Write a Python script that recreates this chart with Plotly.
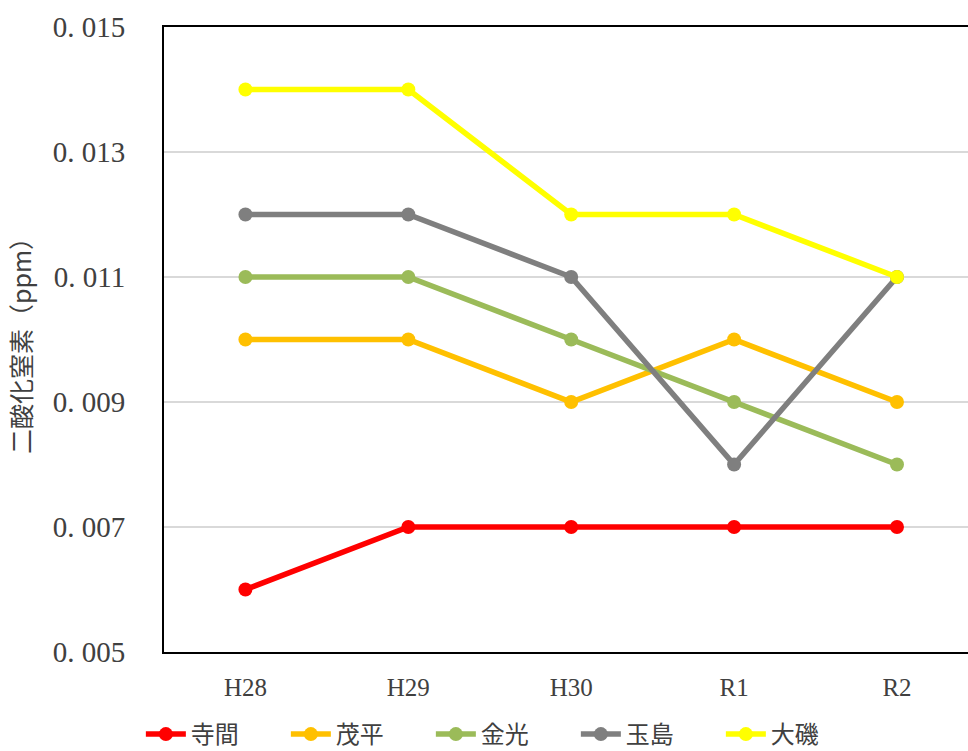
import plotly.graph_objects as go

# Fiscal years
years = ["H28", "H29", "H30", "R1", "R2"]

# Annual mean NO2 concentration (ppm) per monitoring station
terama = [0.006, 0.007, 0.007, 0.007, 0.007]
mobira = [0.010, 0.010, 0.009, 0.010, 0.009]
konko = [0.011, 0.011, 0.010, 0.009, 0.008]
tamashima = [0.012, 0.012, 0.011, 0.008, 0.011]
oiso = [0.014, 0.014, 0.012, 0.012, 0.011]

station_names = ["寺間", "茂平", "金光", "玉島", "大磯"]
station_colors = ["#FF0000", "#FFC000", "#9BBB59", "#7F7F7F", "#FFFF00"]
station_values = [terama, mobira, konko, tamashima, oiso]

y_ticks = [0.005, 0.007, 0.009, 0.011, 0.013, 0.015]
y_tick_text = ["0. 005", "0. 007", "0. 009", "0. 011", "0. 013", "0. 015"]

serif = "Liberation Serif, DejaVu Serif, serif"
cjk = "Noto Sans CJK JP, Noto Sans, sans-serif"

fig = go.Figure()
for name, color, vals in zip(station_names, station_colors, station_values):
    fig.add_trace(go.Scatter(
        x=list(range(len(years))), y=vals, name=name, mode="lines+markers",
        line=dict(color=color, width=5.5),
        marker=dict(color=color, size=14),
    ))

fig.update_layout(
    width=968, height=751,
    margin=dict(l=164, r=0, t=27, b=99, autoexpand=False),
    plot_bgcolor="white", paper_bgcolor="white",
    showlegend=True,
    legend=dict(
        orientation="h",
        xref="container", x=0.52, xanchor="center",
        yref="container", y=0.022, yanchor="middle",
        font=dict(family=cjk, size=24, color="#404040"),
        entrywidth=90, entrywidthmode="pixels",
        itemwidth=40, tracegroupgap=0,
    ),
    xaxis=dict(
        tickmode="array", tickvals=list(range(len(years))), ticktext=years,
        range=[-0.5, 4.436],
        showgrid=False, zeroline=False,
        showline=True, linecolor="black", linewidth=2, mirror=True,
        ticks="", ticklabelstandoff=12,
        tickfont=dict(family=serif, size=25, color="#404040"),
    ),
    yaxis=dict(
        range=[0.005, 0.015],
        tickmode="array", tickvals=y_ticks, ticktext=y_tick_text,
        showgrid=True, gridcolor="#D9D9D9", gridwidth=2,
        zeroline=False,
        showline=True, linecolor="black", linewidth=2, mirror=False,
        ticks="", ticklabelstandoff=31,
        tickfont=dict(family=serif, size=29, color="#404040"),
        title=dict(text="二酸化窒素（ppm）", standoff=14,
                   font=dict(family=cjk, size=25, color="#404040")),
    ),
)

fig.write_html("out.html")
